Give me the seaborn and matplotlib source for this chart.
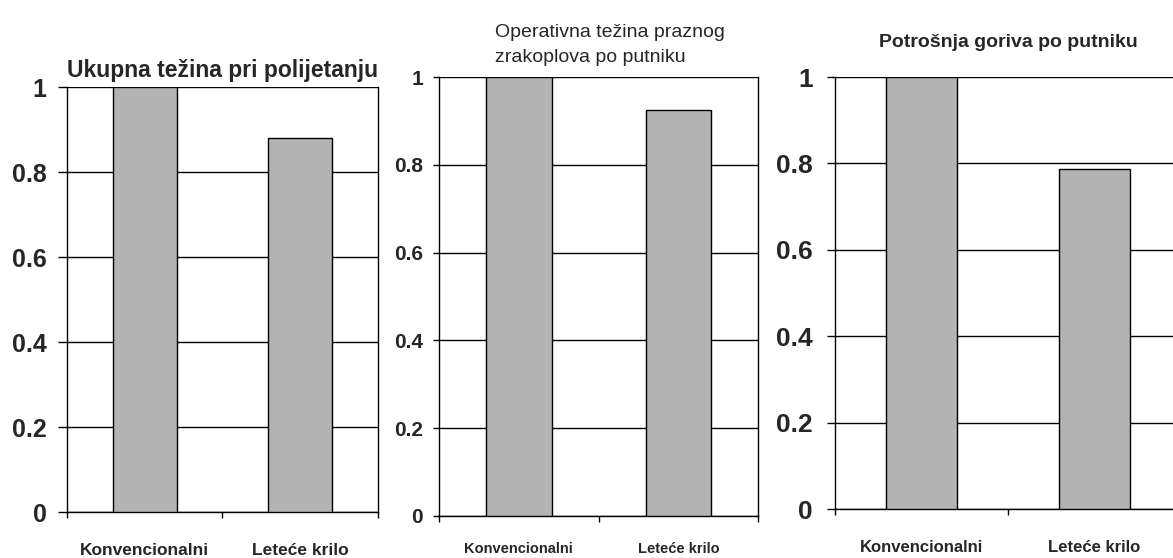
import matplotlib
matplotlib.use('Agg')
import matplotlib.pyplot as plt
import seaborn as sns
import pandas as pd

# values (relative to conventional aircraft = 1)
categories = ['Konvencionalni', 'Leteće krilo']
takeoff_weight = [1.0, 0.88]
empty_weight = [1.0, 0.925]
fuel_burn = [1.0, 0.787]
y_ticks = [0, 0.2, 0.4, 0.6, 0.8, 1.0]
y_labels = ['0', '0.2', '0.4', '0.6', '0.8', '1']

sns.set_style('white')
plt.rcParams['font.family'] = ['Liberation Sans', 'DejaVu Sans']

fig = plt.figure(figsize=(11.73, 5.58), dpi=100)

panels = [
    # rect, values, tick fontsize, xlabel fontsize, tick len, tick pad, xlabel pad
    ([0.0571, 0.0824, 0.2651, 0.7616], takeoff_weight, 18, 12.5, 6.5, 8, 22),
    ([0.3743, 0.0753, 0.2720, 0.7867], empty_weight, 15, 10.5, 4.5, 7, 19),
    ([0.7118, 0.0878, 0.2950, 0.7740], fuel_burn, 19, 12, 6, 10, 22),
]

axes = []
for rect, vals, tfs, xfs, tlen, tpad, xpad in panels:
    ax = fig.add_axes(rect)
    df = pd.DataFrame({'cat': categories, 'val': vals})
    sns.barplot(data=df, x='cat', y='val', order=categories, color='#b3b3b3',
                saturation=1, edgecolor='black', linewidth=1.0, width=0.41,
                ax=ax, zorder=3)
    ax.set_xlim(-0.5, 1.5)
    ax.set_ylim(0, 1)
    ax.set_yticks(y_ticks)
    ax.set_yticklabels(y_labels, fontsize=tfs, fontweight='bold')
    ax.yaxis.grid(True, color='black', linewidth=1.0, zorder=0)
    ax.set_axisbelow(True)
    ax.tick_params(axis='y', left=True, length=tlen, width=1.0, pad=tpad,
                   color='black', direction='out')
    ax.set_xticks([0, 1])
    ax.set_xticklabels(categories, fontsize=xfs, fontweight='bold')
    ax.set_xticks([-0.5, 0.5, 1.5], minor=True)
    ax.tick_params(axis='x', which='major', length=0, pad=xpad)
    ax.tick_params(axis='x', which='minor', bottom=True, length=4, width=1.0,
                   color='black', direction='out')
    ax.set_xlabel('')
    ax.set_ylabel('')
    for side in ['left', 'right', 'bottom']:
        ax.spines[side].set_visible(True)
        ax.spines[side].set_color('black')
        ax.spines[side].set_linewidth(1.0)
    ax.spines['top'].set_visible(False)
    axes.append(ax)

axes[0].set_title('Ukupna težina pri polijetanju', fontsize=16.5, fontweight='bold', pad=7)
fig.text(495 / 1173, 1 - 62 / 558, 'Operativna težina praznog\nzrakoplova po putniku',
         fontsize=14, ha='left', va='baseline', linespacing=1.65)
axes[2].set_title('Potrošnja goriva po putniku', fontsize=14, fontweight='bold', pad=22)

fig.savefig('out.png', dpi=100)
